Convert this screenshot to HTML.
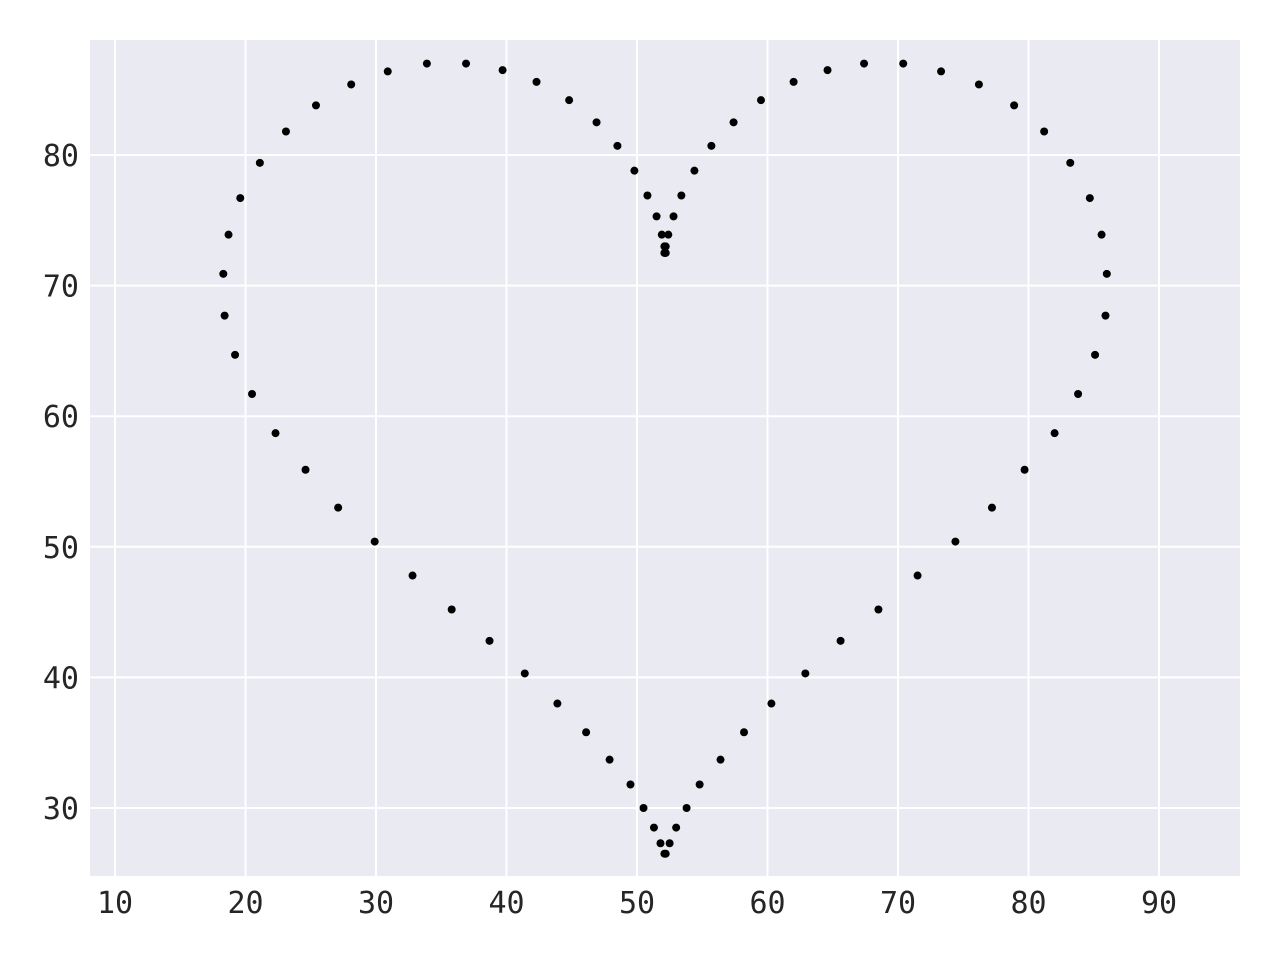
<!DOCTYPE html>
<html><head><meta charset="utf-8"><style>
html,body{margin:0;padding:0;background:#fff;}
svg{display:block;}
text{font-family:"DejaVu Sans Mono","Liberation Mono",monospace;font-size:30px;fill:#262626;}
</style></head><body>
<svg id="chart" width="1280" height="960" xmlns="http://www.w3.org/2000/svg">
<rect x="90" y="40" width="1150" height="836" fill="#eaeaf2"/>
<g id="grid"></g>
<g id="ticks"></g>
<g id="pts"></g>
</svg>
<script>
const xTicks=[10,20,30,40,50,60,70,80,90];
const yTicks=[30,40,50,60,70,80];
const xs=[36.9,33.9,30.9,28.1,25.4,23.1,21.1,19.6,18.7,18.3,18.4,19.2,20.5,22.3,24.6,27.1,29.9,32.8,35.8,38.7,41.4,43.9,46.1,47.9,49.5,50.5,51.3,51.8,52.1,
52.2,52.5,53.0,53.8,54.8,56.4,58.2,60.3,62.9,65.6,68.5,71.5,74.4,77.2,79.7,82.0,83.8,85.1,85.9,86.0,85.6,84.7,83.2,81.2,78.9,76.2,73.3,70.4,67.4,
64.6,62.0,59.5,57.4,55.7,54.4,53.4,52.8,52.4,52.2,52.2,
39.7,42.3,44.8,46.9,48.5,49.8,50.8,51.5,51.9,52.1,52.1];
const ys=[87.0,87.0,86.4,85.4,83.8,81.8,79.4,76.7,73.9,70.9,67.7,64.7,61.7,58.7,55.9,53.0,50.4,47.8,45.2,42.8,40.3,38.0,35.8,33.7,31.8,30.0,28.5,27.3,26.5,
26.5,27.3,28.5,30.0,31.8,33.7,35.8,38.0,40.3,42.8,45.2,47.8,50.4,53.0,55.9,58.7,61.7,64.7,67.7,70.9,73.9,76.7,79.4,81.8,83.8,85.4,86.4,87.0,87.0,
86.5,85.6,84.2,82.5,80.7,78.8,76.9,75.3,73.9,73.0,72.5,
86.5,85.6,84.2,82.5,80.7,78.8,76.9,75.3,73.9,73.0,72.5];
const X=v=>115+(v-10)*13.05;
const Y=v=>155-(v-80)*13.06;
const NS="http://www.w3.org/2000/svg";
const grid=document.getElementById('grid'),ticks=document.getElementById('ticks'),pts=document.getElementById('pts');
function mk(t,a){const e=document.createElementNS(NS,t);for(const k in a)e.setAttribute(k,a[k]);return e;}
xTicks.forEach(v=>{
  const l=mk('line',{x1:X(v),x2:X(v),y1:40,y2:876,stroke:'#fff','stroke-width':2});
  
  
  grid.appendChild(l);
  const t=mk('text',{x:X(v),y:913,'text-anchor':'middle'});t.textContent=v;
  
  
  ticks.appendChild(t);
});
yTicks.forEach(v=>{
  const l=mk('line',{x1:90,x2:1240,y1:Y(v),y2:Y(v),stroke:'#fff','stroke-width':2});
  
  
  grid.appendChild(l);
  const t=mk('text',{x:79,y:Y(v)+11,'text-anchor':'end'});t.textContent=v;
  
  
  ticks.appendChild(t);
});
xs.forEach((v,i)=>{
  const c=mk('circle',{cx:X(v),cy:Y(ys[i]),r:4,fill:'#000'});
  
  
  pts.appendChild(c);
});
</script>
</body></html>
